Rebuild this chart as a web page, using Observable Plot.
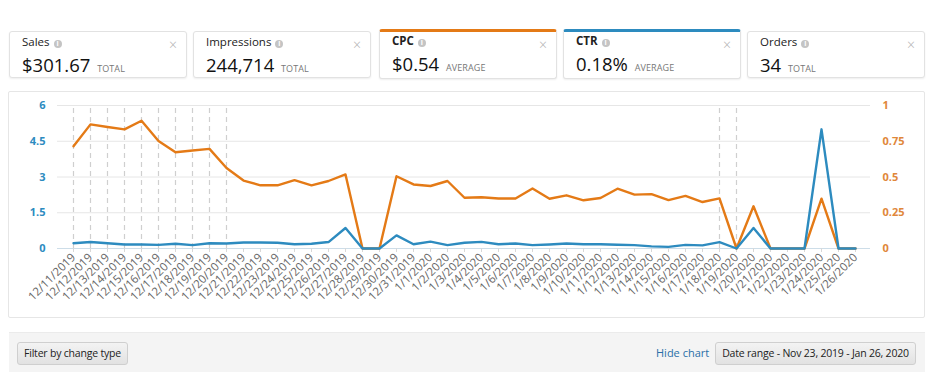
<!DOCTYPE html>
<html>
<head>
<meta charset="utf-8">
<script src="https://cdn.jsdelivr.net/npm/d3@7"></script>
<script src="https://cdn.jsdelivr.net/npm/@observablehq/plot@0.6"></script>
<style>
  html, body { margin: 0; padding: 0; background: #fff; }
  body { width: 939px; height: 372px; position: relative; overflow: hidden; font-family: "Open Sans", "Noto Sans", sans-serif; color: #111; }
  .card { position: absolute; top: 31px; width: 176px; height: 45px; border: 1px solid #e2e2e2; border-radius: 3px; background: #fff; box-shadow: 0 1px 2px rgba(0,0,0,0.07); }
  .card.sel { top: 29px; height: 46px; border-top: 3px solid; }
  .card .t { position: absolute; left: 12px; top: 2px; font-size: 11.5px; color: #222; }
  .card.sel .t { top: 1px; font-weight: 700; }
  .card .i { display: inline-block; width: 8px; height: 8px; border-radius: 50%; background: #c4c4c4; color: #fff; font-size: 7px; line-height: 8px; text-align: center; font-weight: 700; margin-left: 4px; vertical-align: 0px; }
  .card .x { position: absolute; right: 9px; top: 3px; font-size: 14px; color: #b3b3b3; font-weight: 300; }
  .card .v { position: absolute; left: 12px; top: 20px; font-size: 18.5px; color: #111; white-space: nowrap; }
  .card.sel .v { top: 19px; }
  .card .v span { font-size: 9px; color: #777; letter-spacing: 0.1px; margin-left: 2px; }
  #panel { position: absolute; left: 8px; top: 91px; width: 915px; height: 225px; border: 1px solid #e6e6e6; border-radius: 2px; }
  #chart { position: absolute; left: 8px; top: 90px; }
  #bar { position: absolute; left: 9px; top: 332px; width: 916px; height: 40px; background: #f4f4f4; border-top: 1px solid #ebebeb; }
  .btn { position: absolute; top: 9px; height: 21px; border: 1px solid #cfcfcf; border-radius: 3px; background: linear-gradient(#f3f3f3, #e2e2e2); font-size: 10.5px; color: #222; line-height: 21px; text-align: center; white-space: nowrap; letter-spacing: -0.2px; }
  #hide { position: absolute; left: 647px; top: 11px; font-size: 11px; color: #2a6fa8; line-height: 18px; }
</style>
</head>
<body>
<div id="cards"></div>
<div id="panel"></div>
<div id="chart"></div>
<div id="bar">
  <div class="btn" style="left:8px;width:109px;">Filter by change type</div>
  <div id="hide">Hide chart</div>
  <div class="btn" style="left:706px;width:199px;">Date range - Nov 23, 2019 - Jan 26, 2020</div>
</div>
<script>
// ---- Data ----
const cardTitles = ["Sales", "Impressions", "CPC", "CTR", "Orders"];
const cardValues = ["$301.67", "244,714", "$0.54", "0.18%", "34"];
const cardUnits = ["TOTAL", "TOTAL", "AVERAGE", "AVERAGE", "TOTAL"];

const dates = [
  "12/11/2019","12/12/2019","12/13/2019","12/14/2019","12/15/2019","12/16/2019","12/17/2019",
  "12/18/2019","12/19/2019","12/20/2019","12/21/2019","12/22/2019","12/23/2019","12/24/2019",
  "12/25/2019","12/26/2019","12/27/2019","12/28/2019","12/29/2019","12/30/2019","12/31/2019",
  "1/1/2020","1/2/2020","1/3/2020","1/4/2020","1/5/2020","1/6/2020","1/7/2020","1/8/2020",
  "1/9/2020","1/10/2020","1/11/2020","1/12/2020","1/13/2020","1/14/2020","1/15/2020",
  "1/16/2020","1/17/2020","1/18/2020","1/19/2020","1/20/2020","1/21/2020","1/22/2020",
  "1/23/2020","1/24/2020","1/25/2020","1/26/2020"
];
// CTR series (left axis)
const ctr = [
  0.22,0.27,0.22,0.17,0.17,0.15,0.20,0.14,0.22,0.21,0.25,0.25,0.24,0.18,0.20,0.27,0.86,0,0,0.55,0.18,
  0.29,0.14,0.24,0.28,0.18,0.21,0.14,0.17,0.21,0.18,0.18,0.16,0.14,0.09,0.07,0.15,0.13,0.27,0,0.86,0,0,0,5.0,0,0
];
// CPC series (right axis, $)
const cpc = [
  0.715,0.868,0.850,0.833,0.893,0.752,0.673,0.685,0.697,0.563,0.475,0.442,0.442,0.478,0.442,0.472,0.518,0,0,0.505,0.448,
  0.437,0.472,0.355,0.358,0.350,0.350,0.420,0.348,0.372,0.337,0.353,0.418,0.377,0.380,0.338,0.368,0.325,0.350,0,0.295,0,0,0,0.348,0,0
];
const leftTicks = [0, 1.5, 3, 4.5, 6];
const rightTicks = [0, 0.25, 0.5, 0.75, 1];
const dashedDates = [
  "12/11/2019","12/12/2019","12/13/2019","12/14/2019","12/15/2019","12/16/2019","12/17/2019",
  "12/18/2019","12/19/2019","12/20/2019","1/18/2020","1/19/2020"
];

// ---- Cards ----
const cardLefts = [9, 193, 379, 563, 747];
const cardAccent = [null, null, "#e47a16", "#2d8bbf", null];
const cardsEl = document.getElementById("cards");
cardTitles.forEach((t, i) => {
  const c = document.createElement("div");
  c.className = "card" + (cardAccent[i] ? " sel" : "");
  c.style.left = cardLefts[i] + "px";
  if (cardAccent[i]) c.style.borderTopColor = cardAccent[i];
  c.innerHTML = `<div class="t">${t}<span class="i">i</span></div><div class="x">×</div>` +
    `<div class="v">${cardValues[i]} <span>${cardUnits[i]}</span></div>`;
  cardsEl.appendChild(c);
});

// ---- Chart ----
const BLUE = "#2d8bbf", ORANGE = "#e47a16";
const ratio = leftTicks[leftTicks.length - 1] / rightTicks[rightTicks.length - 1];
const rows = dates.map((d, i) => ({date: d, ctr: ctr[i], cpc: cpc[i]}));

const chart = Plot.plot({
  width: 916,
  height: 222,
  marginLeft: 49,
  marginRight: 54,
  marginTop: 15,
  marginBottom: 64,
  style: {fontFamily: "'Open Sans', sans-serif", background: "transparent", overflow: "visible"},
  x: {type: "point", domain: dates, padding: 0.5},
  y: {domain: [0, leftTicks[leftTicks.length - 1]]},
  marks: [
    Plot.gridY({ticks: leftTicks, stroke: "#e6e6e6", strokeOpacity: 1}),
    Plot.ruleX(dashedDates, {y1: 0, y2: leftTicks[leftTicks.length - 1], stroke: "#cfcfcf", strokeDasharray: "5,4", strokeWidth: 1.2}),
    Plot.ruleY([0], {stroke: "#cddde8", strokeWidth: 1.2}),
    Plot.axisX({tickRotate: -45, tickSize: 4, tickPadding: 3, stroke: "#d8d8d8", fill: "#666", fontSize: 11.5, label: null}),
    Plot.axisY({ticks: leftTicks, anchor: "left", tickSize: 0, tickPadding: 12, fill: BLUE, fontWeight: 700, fontSize: 11, label: null, tickFormat: v => String(v)}),
    Plot.axisY({ticks: rightTicks.map(v => v * ratio), anchor: "right", tickSize: 0, tickPadding: 12, fill: "#e0873a", fontWeight: 700, fontSize: 11, label: null, tickFormat: v => String(+(v / ratio).toFixed(2))}),
    Plot.lineY(rows, {x: "date", y: d => d.cpc * ratio, stroke: ORANGE, strokeWidth: 2.4}),
    Plot.lineY(rows, {x: "date", y: "ctr", stroke: BLUE, strokeWidth: 2.4})
  ]
});
document.getElementById("chart").appendChild(chart);
</script>
</body>
</html>
